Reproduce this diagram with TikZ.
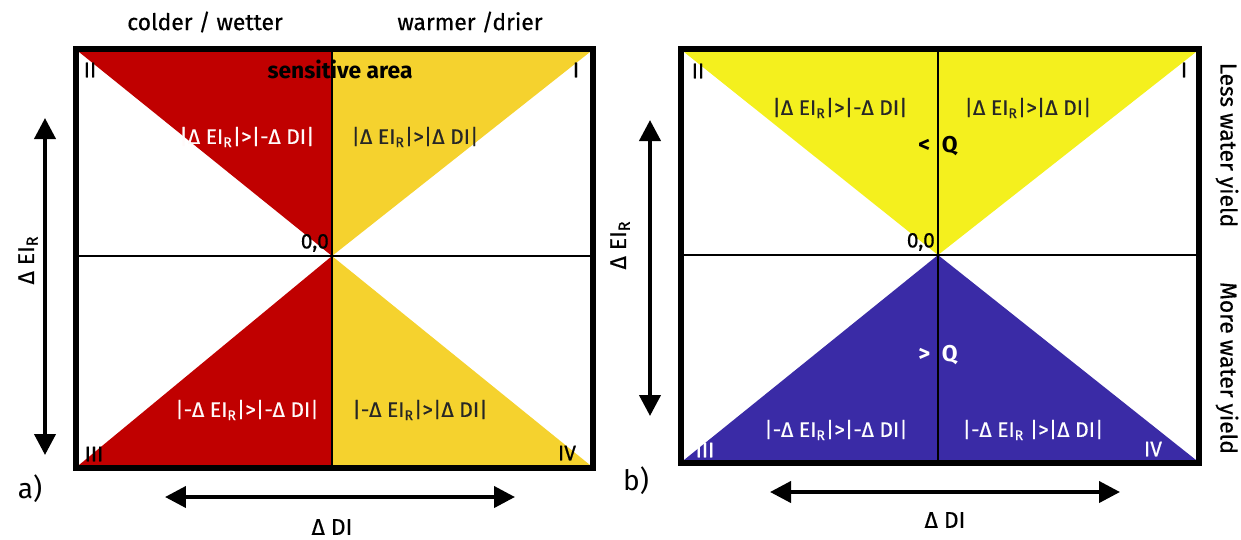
\documentclass[tikz,border=0pt]{standalone}
\usepackage{fontspec}
\setmainfont{Fira Sans}
\newfontfamily\semifont{Fira Sans}[FakeBold=0.5]
\usetikzlibrary{arrows.meta, positioning}

\definecolor{hotred}{HTML}{C00000}
\definecolor{warmgold}{HTML}{F5D22E}
\definecolor{lessyel}{HTML}{F4F01E}
\definecolor{moreblue}{HTML}{3A2BA6}

\newcommand{\dEI}{Δ EI\textsubscript{R}}

\begin{document}
\begin{tikzpicture}[x=0.02cm, y=-0.02cm,
    frame/.style={draw, line width=3.4pt},
    axisline/.style={draw, line width=1.1pt},
    dblarr/.style={{Triangle[length=4.2mm, width=4.2mm]}-{Triangle[length=4.2mm, width=4.2mm]}, line width=2.3pt},
    zone/.style={font=\semifont\fontsize{12}{14}\selectfont, inner sep=1pt},
    lighttext/.style={zone, text=white!92!pink},
    darktext/.style={zone, text=black!85},
    roman/.style={font=\semifont\fontsize{12}{14}\selectfont, inner sep=1pt},
    heading/.style={font=\semifont\fontsize{13}{15}\selectfont, inner sep=1pt},
    boldhead/.style={font=\bfseries\fontsize{13}{15}\selectfont, inner sep=1pt},
    panellabel/.style={font=\fontsize{16}{18}\selectfont, inner sep=1pt}]
  \useasboundingbox (0,0) rectangle (1241,539);

  % ---- panel a ----
  \coordinate (aTL) at (79,52);
  \coordinate (aTR) at (590,52);
  \coordinate (aBL) at (79,465);
  \coordinate (aBR) at (590,465);
  \coordinate (aC) at (332,256);
  \coordinate (aT) at (332,52);
  \coordinate (aB) at (332,465);
  \coordinate (aL) at (76,256);
  \coordinate (aR) at (593,256);
  \fill[hotred] (aTL) -- (aT) -- (aC) -- cycle;
  \fill[warmgold] (aT) -- (aTR) -- (aC) -- cycle;
  \fill[hotred] (aBL) -- (aC) -- (aB) -- cycle;
  \fill[warmgold] (aC) -- (aBR) -- (aB) -- cycle;
  \draw[axisline] (aT) -- (aB);
  \draw[axisline] (aL) -- (aR);
  \draw[frame] (76,49) rectangle (593,468);

  \node[heading] (cold) at (205,22) {colder / wetter};
  \node[heading] (warm) at (470,22) {warmer /drier};
  \node[boldhead] (sens) at (340,69) {sensitive area};
  \node[roman] (aII) at (90,70) {II};
  \node[roman] (aI) at (576,70) {I};
  \node[roman] (aIII) at (94,454) {III};
  \node[roman] (aIV) at (567,453) {IV};
  \node[roman, anchor=south east] (aO) at (331,254) {0,0};
  \node[lighttext] (aq2) at (247,137) {|\dEI|>|-Δ DI|};
  \node[darktext] (aq1) at (415,137) {|\dEI|>|Δ DI|};
  \node[lighttext] (aq3) at (247,410) {|-\dEI|>|-Δ DI|};
  \node[darktext] (aq4) at (420,410) {|-\dEI|>|Δ DI|};

  \coordinate (aUp) at (45,118);
  \coordinate (aDown) at (45,455);
  \coordinate (aLeft) at (165,497);
  \coordinate (aRight) at (515,497);
  \draw[dblarr] (aDown) -- (aUp);
  \draw[dblarr] (aLeft) -- (aRight);
  \node[heading, rotate=90] (aEI) at (28,260) {\dEI};
  \node[heading] (aDI) at (332,527) {Δ DI};
  \node[panellabel] (alab) at (30,489) {a)};

  % ---- panel b ----
  \coordinate (bTL) at (684,52);
  \coordinate (bTR) at (1196,52);
  \coordinate (bBL) at (684,460);
  \coordinate (bBR) at (1196,460);
  \coordinate (bC) at (938,255);
  \coordinate (bT) at (938,52);
  \coordinate (bB) at (938,460);
  \coordinate (bL) at (681,255);
  \coordinate (bR) at (1199,255);
  \fill[lessyel] (bTL) -- (bTR) -- (bC) -- cycle;
  \fill[moreblue] (bBL) -- (bC) -- (bBR) -- cycle;
  \draw[axisline] (bT) -- (bB);
  \draw[axisline] (bL) -- (bR);
  \draw[frame] (681,49) rectangle (1199,463);

  \node[roman] (bII) at (698,71) {II};
  \node[roman] (bI) at (1184,70) {I};
  \node[roman, text=white] (bIII) at (705,450) {III};
  \node[roman, text=white] (bIV) at (1153,449) {IV};
  \node[roman, anchor=south east] (bO) at (937,253) {0,0};
  \node[darktext] (bq2) at (840,108) {|\dEI|>|-Δ DI|};
  \node[darktext] (bq1) at (1028,108) {|\dEI|>|Δ DI|};
  \node[lighttext, text=white] (bq3) at (836,430) {|-\dEI|>|-Δ DI|};
  \node[lighttext, text=white] (bq4) at (1033,430) {|-\dEI~|>|Δ DI|};
  \node[boldhead] (lessQ) at (938,146) {<\hspace{6.5pt}Q};
  \node[boldhead, text=white] (moreQ) at (938,355) {>\hspace{6.5pt}Q};
  \node[heading, rotate=-90] (less) at (1227,145) {Less water yield};
  \node[heading, rotate=-90] (more) at (1227,368) {More water yield};

  \coordinate (bUp) at (650,120);
  \coordinate (bDown) at (650,416);
  \coordinate (bLeft) at (770,492);
  \coordinate (bRight) at (1120,492);
  \draw[dblarr] (bDown) -- (bUp);
  \draw[dblarr] (bLeft) -- (bRight);
  \node[heading, rotate=90] (bEI) at (620,245) {\dEI};
  \node[heading] (bDI) at (945,520) {Δ DI};
  \node[panellabel] (blab) at (636,481) {b)};
\end{tikzpicture}
\end{document}
